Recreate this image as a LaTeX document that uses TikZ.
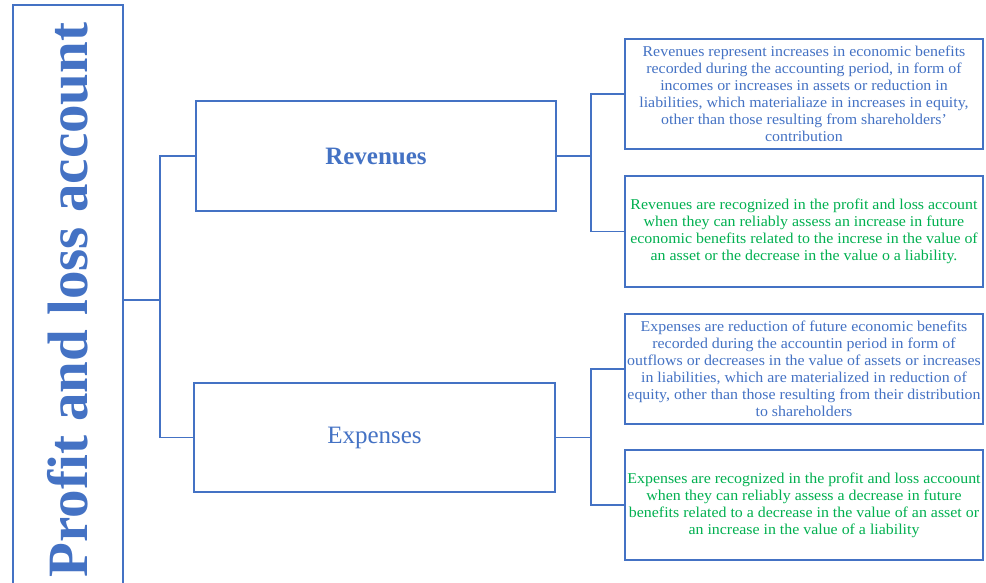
\documentclass[tikz,border=0pt]{standalone}
\usepackage{fontspec}
\setmainfont{Liberation Serif}
\newfontfamily\boxfont[FakeStretch=1.06]{Liberation Serif}
\newcommand\mytightlines{\lineskiplimit=-30pt\relax\lineskip=0pt\relax}
\definecolor{obl}{HTML}{4472C4}
\definecolor{ogr}{HTML}{00B050}
\tikzset{
  boxline/.style={draw=obl, line width=2pt, rectangle, inner sep=0pt},
  conn/.style={draw=obl, line width=1.9pt},
  midbox/.style={boxline, minimum width=360pt, minimum height=110pt, text=obl, font=\fontsize{25}{28}\selectfont},
  infobox/.style={boxline, minimum width=358pt, minimum height=110pt, align=center,
     font=\boxfont\fontsize{15}{17}\selectfont\mytightlines},
}
\begin{document}
\begin{tikzpicture}[x=1pt,y=-1pt]
\clip (0,0) rectangle (986,582);
\fill[white] (0,0) rectangle (986,582);
% title box
\node[boxline, rotate=90, minimum width=590pt, minimum height=110.5pt, text=obl,
      font=\fontsize{57}{60}\selectfont\bfseries] (pl) at (68,300) {Profit and loss account};
% middle boxes
\node[midbox, font=\fontsize{25}{28}\selectfont\bfseries] (rev) at (376,156) {Revenues};
\node[midbox, minimum width=361pt, minimum height=109pt] (exp) at (374.5,437.5) {Expenses};
% right boxes
\node[infobox, text=obl] (r1) at (804,94) {Revenues represent increases in economic benefits\\recorded during the accounting period, in form of\\incomes or increases in assets or reduction in\\liabilities, which materialiaze in increases in equity,\\other than those resulting from shareholders’\\contribution};
\node[infobox, text=ogr, minimum height=111pt] (r2) at (804,231.5) {Revenues are recognized in the profit and loss account\\when they can reliably assess an increase in future\\economic benefits related to the increse in the value of\\an asset or the decrease in the value o a liability.};
\node[infobox, text=obl] (e1) at (804,369) {Expenses are reduction of future economic benefits\\recorded during the accountin period in form of\\outflows or decreases in the value of assets or increases\\in liabilities, which are materialized in reduction of\\equity, other than those resulting from their distribution\\to shareholders};
\node[infobox, text=ogr] (e2) at (804,505) {Expenses are recognized in the profit and loss accoount\\when they can reliably assess a decrease in future\\benefits related to a decrease in the value of an asset or\\an increase in the value of a liability};
% junctions
\coordinate (jl) at (160,0);
\coordinate (jr) at (591,0);
\draw[conn] (pl.south) -- (pl.south -| jl);
\draw[conn] (rev.west) -- (rev.west -| jl) -- (exp.west -| jl) -- (exp.west);
\draw[conn] (rev.east) -- (rev.east -| jr);
\draw[conn] (r1.west) -- (r1.west -| jr) -- (r2.west -| jr) -- (r2.west);
\draw[conn] (exp.east) -- (exp.east -| jr);
\draw[conn] (e1.west) -- (e1.west -| jr) -- (e2.west -| jr) -- (e2.west);
\end{tikzpicture}
\end{document}
